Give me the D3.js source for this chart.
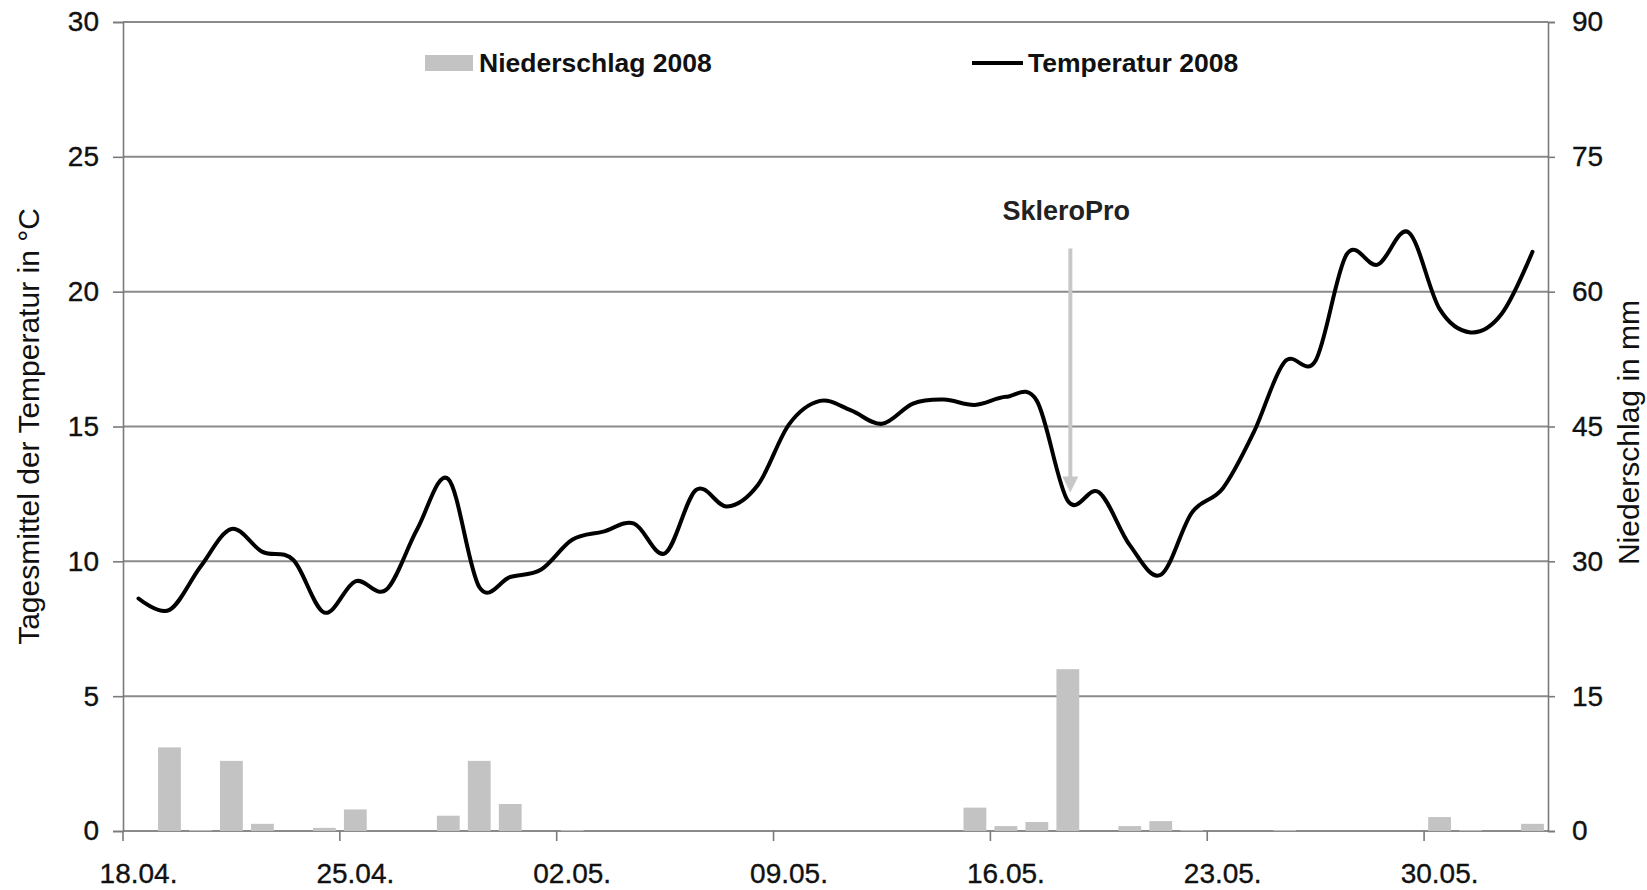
<!DOCTYPE html>
<html>
<head>
<meta charset="utf-8">
<script src="https://cdn.jsdelivr.net/npm/d3@7"></script>
<style>
  html, body { margin: 0; padding: 0; background: #fff; }
  svg { display: block; font-family: "Liberation Sans", Arial, sans-serif; }
</style>
</head>
<body>
<svg id="chart" width="1647" height="890"></svg>
<script>
// ---- Data ----
const categories = [
  "18.04.","19.04.","20.04.","21.04.","22.04.","23.04.","24.04.","25.04.","26.04.","27.04.",
  "28.04.","29.04.","30.04.","01.05.","02.05.","03.05.","04.05.","05.05.","06.05.","07.05.",
  "08.05.","09.05.","10.05.","11.05.","12.05.","13.05.","14.05.","15.05.","16.05.","17.05.",
  "18.05.","19.05.","20.05.","21.05.","22.05.","23.05.","24.05.","25.05.","26.05.","27.05.",
  "28.05.","29.05.","30.05.","31.05.","01.06.","02.06."
];
const precipitation = [
  0, 9.3, 0.1, 7.8, 0.8, 0, 0.35, 2.4, 0, 0,
  1.7, 7.8, 3.0, 0, 0.1, 0, 0, 0, 0, 0,
  0, 0, 0, 0, 0, 0, 0, 2.6, 0.55, 1.0,
  18.0, 0, 0.55, 1.1, 0.1, 0, 0, 0.1, 0, 0,
  0, 0, 1.55, 0.1, 0, 0.8
];
const temperature = [
  8.62, 8.2, 9.8, 11.2, 10.35, 10.05, 8.1, 9.26, 8.95, 11.2,
  13.05, 9.05, 9.42, 9.7, 10.8, 11.1, 11.4, 10.3, 12.65, 12.03,
  12.84, 15.08, 15.95, 15.6, 15.1, 15.85, 16.0, 15.8, 16.1, 15.95,
  12.24, 12.57, 10.6, 9.5, 11.8, 12.7, 14.78, 17.4, 17.45, 21.38,
  21.0, 22.2, 19.36, 18.49, 19.17, 21.48
];
const leftTicks = [0, 5, 10, 15, 20, 25, 30];
const rightTicks = [0, 15, 30, 45, 60, 75, 90];
const xTickLabels = ["18.04.","25.04.","02.05.","09.05.","16.05.","23.05.","30.05."];
const seriesNames = ["Niederschlag 2008", "Temperatur 2008"];
const leftTitle = "Tagesmittel der Temperatur in °C";
const rightTitle = "Niederschlag in mm";
const annotation = { label: "SkleroPro", category: "18.05.", from: 21.6, to: 12.55, textAt: 23.0 };

// ---- Layout ----
const svg = d3.select("#chart");
const L = 123, R = 1548, T = 22, B = 831;
const gridColor = "#8a8a8a";
const barColor = "#c3c3c3";

const x = d3.scaleBand().domain(categories).range([L, R]).paddingInner(0.264).paddingOuter(0.132);
const yL = d3.scaleLinear().domain([0, 30]).range([B, T]);
const yR = d3.scaleLinear().domain([0, 90]).range([B, T]);
const cx = c => x(c) + x.bandwidth() / 2;
const boundary = c => x(c) - (x.step() - x.bandwidth()) / 2;

// gridlines
svg.append("g").selectAll("line").data(leftTicks).join("line")
  .attr("x1", L).attr("x2", R)
  .attr("y1", d => yL(d)).attr("y2", d => yL(d))
  .attr("stroke", gridColor).attr("stroke-width", 2);

// bars
svg.append("g").selectAll("rect").data(categories).join("rect")
  .attr("x", c => x(c))
  .attr("width", x.bandwidth())
  .attr("y", (c, i) => yR(precipitation[i]))
  .attr("height", (c, i) => B - yR(precipitation[i]))
  .attr("fill", barColor);

// left axis
const axL = d3.axisLeft(yL).tickValues(leftTicks).tickSize(10).tickPadding(14);
const gL = svg.append("g").attr("transform", `translate(${L},0)`).call(axL);
// right axis
const axR = d3.axisRight(yR).tickValues(rightTicks).tickSize(7).tickPadding(17);
const gR = svg.append("g").attr("transform", `translate(${R},0)`).call(axR);
// bottom axis
const axB = d3.axisBottom(x).tickValues(xTickLabels).tickSize(0).tickPadding(32);
const gB = svg.append("g").attr("transform", `translate(0,${B})`).call(axB);

[gL, gR, gB].forEach(g => {
  g.select(".domain").attr("stroke", "#7a7a7a").attr("stroke-width", 1.6);
  g.selectAll(".tick line").attr("stroke", "#7a7a7a").attr("stroke-width", 1.6);
  g.selectAll(".tick text").attr("fill", "#111").attr("font-size", 28)
    .attr("stroke", "#111").attr("stroke-width", 0.35)
    .attr("font-family", "'Liberation Sans', Arial, sans-serif");
});
gB.select(".domain").remove();

// bottom boundary ticks
svg.append("g").selectAll("line").data(xTickLabels).join("line")
  .attr("x1", c => boundary(c)).attr("x2", c => boundary(c))
  .attr("y1", B).attr("y2", B + 10)
  .attr("stroke", "#7a7a7a").attr("stroke-width", 1.6);

// temperature line
const line = d3.line()
  .x((d, i) => cx(categories[i]))
  .y(d => yL(d))
  .curve(d3.curveCardinal.tension(0));
svg.append("path").datum(temperature)
  .attr("d", line)
  .attr("fill", "none").attr("stroke", "#000").attr("stroke-width", 4)
  .attr("stroke-linejoin", "round").attr("stroke-linecap", "round");

// annotation arrow
const ax = cx(annotation.category) + 2.5;
svg.append("line")
  .attr("x1", ax).attr("x2", ax)
  .attr("y1", yL(annotation.from)).attr("y2", yL(annotation.to) - 12)
  .attr("stroke", "#c8c8c8").attr("stroke-width", 4);
svg.append("path")
  .attr("d", `M${ax - 8},${yL(annotation.to) - 16} L${ax + 8},${yL(annotation.to) - 16} L${ax},${yL(annotation.to)} Z`)
  .attr("fill", "#c8c8c8");
svg.append("text")
  .attr("x", ax - 4).attr("y", yL(annotation.textAt))
  .attr("text-anchor", "middle").attr("dominant-baseline", "central")
  .attr("font-size", 27).attr("font-weight", "bold").attr("fill", "#222")
  .text(annotation.label);

// legend
const lg = svg.append("g");
lg.append("rect").attr("x", 425).attr("y", 55).attr("width", 48).attr("height", 16).attr("fill", barColor);
lg.append("text").attr("x", 479).attr("y", 63).attr("dominant-baseline", "central")
  .attr("font-size", 26.5).attr("font-weight", "bold").attr("fill", "#111").text(seriesNames[0]);
lg.append("line").attr("x1", 972).attr("x2", 1023).attr("y1", 63).attr("y2", 63)
  .attr("stroke", "#000").attr("stroke-width", 4);
lg.append("text").attr("x", 1028).attr("y", 63).attr("dominant-baseline", "central")
  .attr("font-size", 26.5).attr("font-weight", "bold").attr("fill", "#111").text(seriesNames[1]);

// axis titles
svg.append("text")
  .attr("transform", `translate(28,${(T + B) / 2}) rotate(-90)`)
  .attr("text-anchor", "middle").attr("dominant-baseline", "central")
  .attr("font-size", 30).attr("fill", "#111").text(leftTitle);
svg.append("text")
  .attr("transform", `translate(1628,${(T + B) / 2 + 6}) rotate(-90)`)
  .attr("text-anchor", "middle").attr("dominant-baseline", "central")
  .attr("font-size", 30).attr("fill", "#111").text(rightTitle);
</script>
</body>
</html>
